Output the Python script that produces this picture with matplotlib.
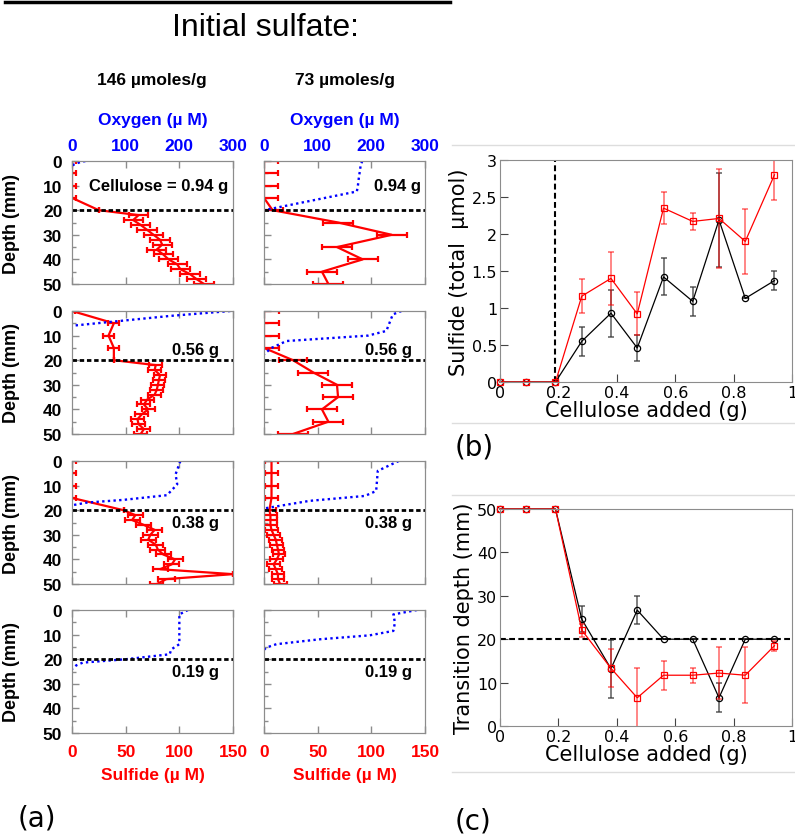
import matplotlib
matplotlib.use("Agg")
import matplotlib.pyplot as plt
from matplotlib.lines import Line2D
from matplotlib.ticker import MultipleLocator

W, H = 795, 837

# depth grids (mm) for the sulfide microprofiles
depth_fine = [0, 5, 10, 15, 20, 22, 24, 26, 28, 30, 32, 34, 36, 38, 40, 42, 44, 46, 48, 50]
depth_coarse = [0, 5, 10, 15, 20, 25, 30, 35, 40, 45, 50]

# sulfide (uM) with horizontal error, 146 umoles/g sulfate
sulf_146_094 = [0, 0, 0, 0, 25, 62, 57, 64, 70, 76, 82, 84, 79, 85, 90, 98, 101, 110, 116, 123]
err_146_094 = [4, 4, 4, 4, 0, 9, 9, 9, 9, 9, 9, 9, 9, 9, 9, 9, 9, 9, 9, 9]
sulf_146_056 = [0, 39, 34, 39, 39, 78, 77, 82, 81, 80, 79, 77, 70, 67, 71, 65, 61, 62, 67, 64]
err_146_056 = [3, 5, 5, 5, 0, 6, 6, 6, 6, 6, 6, 6, 6, 6, 6, 6, 6, 6, 6, 6]
sulf_146_038 = [0, 0, 0, 0, 48, 59, 56, 67, 77, 73, 71, 78, 80, 85, 96, 93, 82, 150, 88, 79]
err_146_038 = [4, 4, 4, 4, 0, 7, 7, 7, 7, 7, 7, 7, 7, 7, 7, 7, 7, 0, 8, 6]

# sulfide (uM), 73 umoles/g sulfate
sulf_73_094 = [0, 0, 0, 0, 8, 69, 119, 68, 92, 54, 60]
err_73_094 = [13, 13, 13, 13, 10, 14, 14, 14, 14, 14, 14]
sulf_73_056 = [0, 0, 0, 0, 27, 46, 68, 69, 54, 60, 27]
err_73_056 = [14, 14, 14, 14, 13, 14, 14, 14, 14, 14, 14]
sulf_73_038 = [7, 7, 7, 7, 5, 6, 6, 6, 7, 9, 11, 12, 13, 14, 12, 9, 11, 13, 13, 15]
err_73_038 = [6, 6, 6, 6, 6, 6, 6, 6, 6, 6, 6, 6, 6, 6, 6, 6, 6, 6, 6, 6]

# oxygen (uM) profiles: depth list + concentration list
oxy_depth_146_094 = [0, 0.5, 1, 1.5, 2]
oxy_146_094 = [25, 15, 8, 3, 0]
oxy_depth_146_056 = [0, 2, 6]
oxy_146_056 = [295, 183, 0]
oxy_depth_146_038 = [0, 5.4, 9.5, 13.9, 15.8, 16.9, 18]
oxy_146_038 = [202, 193, 196, 177, 96, 28, 0]
oxy_depth_146_019 = [0, 1.8, 13.9, 16, 18, 20, 21.4, 22.5, 24]
oxy_146_019 = [216, 200, 200, 185, 182, 101, 20, 8, 0]

oxy_depth_73_094 = [0, 2, 5, 8, 10, 12.4, 20]
oxy_73_094 = [183, 180, 178, 176, 175, 173, 0]
oxy_depth_73_056 = [0, 1.4, 8.1, 10, 12.2, 15, 17.6]
oxy_73_056 = [256, 240, 228, 194, 42, 14, 0]
oxy_depth_73_038 = [0, 4, 12.2, 14.2, 16.2, 19.3]
oxy_73_038 = [251, 212, 209, 188, 85, 0]
oxy_depth_73_019 = [0, 1.8, 5.1, 8.5, 10.3, 11.9, 13.9, 15.3, 16.2]
oxy_73_019 = [285, 241, 244, 241, 197, 104, 23, 4, 0]

# axis ticks for the profile panels
depth_ticks = [0, 10, 20, 30, 40, 50]
depth_labels = ["0", "10", "20", "30", "40", "50"]
sulf_ticks = [0, 50, 100, 150]
sulf_labels = ["0", "50", "100", "150"]
oxy_ticks = [0, 100, 200, 300]
oxy_labels = ["0", "100", "200", "300"]

# summary panels
cellulose = [0, 0.09, 0.19, 0.28, 0.38, 0.47, 0.56, 0.66, 0.75, 0.84, 0.94]
total_sulfide_black = [0, 0, 0, 0.55, 0.93, 0.46, 1.42, 1.09, 2.19, 1.13, 1.37]
total_sulfide_black_err = [0, 0, 0, 0.20, 0.32, 0.17, 0.25, 0.20, 0.63, 0, 0.13]
total_sulfide_red = [0, 0, 0, 1.16, 1.40, 0.92, 2.35, 2.17, 2.21, 1.90, 2.80]
total_sulfide_red_err = [0, 0, 0, 0.23, 0.36, 0.29, 0.22, 0.11, 0.67, 0.44, 0.34]
transition_black = [50, 50, 50, 24.6, 13.2, 26.7, 20, 20, 6.5, 20, 20]
transition_black_err = [0, 0, 0, 3, 6.7, 3.3, 0, 0, 3.3, 0, 0]
transition_red = [50, 50, 50, 22.1, 13.3, 6.5, 11.7, 11.7, 12.2, 11.7, 18.5]
transition_red_err = [0, 0, 0, 1.5, 4.4, 6.8, 3.3, 1.7, 6.0, 6.5, 1.2]

cell_ticks = [0, 0.2, 0.4, 0.6, 0.8, 1.0]
cell_labels = ["0", "0.2", "0.4", "0.6", "0.8", "1"]
sulf_total_ticks = [0, 0.5, 1, 1.5, 2, 2.5, 3]
sulf_total_labels = ["0", "0.5", "1", "1.5", "2", "2.5", "3"]
trans_ticks = [0, 10, 20, 30, 40, 50]
trans_labels = ["0", "10", "20", "30", "40", "50"]

ARIAL = "Liberation Sans"
SPINE = "#8c8c8c"

fig = plt.figure(figsize=(W / 100, H / 100), dpi=100)


def fx(px):
    return px / W


def fy(px):
    return 1 - px / H


def profile_panel(col, row, sulf_depth, sulf, sulf_err, oxy_depth, oxy, note):
    left = [72, 264][col]
    top = [162, 312, 462, 611][row]
    ax = fig.add_axes([fx(left), fy(top + 123), 161 / W, 123 / H])
    ax.set_xlim(0, 150)
    ax.set_ylim(50, 0)
    bold = dict(fontfamily=ARIAL, fontweight="bold", fontsize=12.5)
    ax.set_xticks(sulf_ticks, sulf_labels, color="red", **bold)
    ax.set_yticks(depth_ticks, depth_labels, color="black", **bold)
    ax.yaxis.set_minor_locator(MultipleLocator(5))
    ax.tick_params(direction="in", color=SPINE, length=5, width=1)
    ax.tick_params(which="minor", direction="in", color=SPINE, length=3, width=1)
    ax.tick_params(axis="x", pad=8, labelbottom=(row == 3))
    ax.tick_params(axis="y", pad=7, labelleft=(col == 0))
    if row == 3:
        ax.set_xlabel("Sulfide (\u00b5 M)", color="red", labelpad=6, **bold)
    if col == 0:
        ax.set_ylabel("Depth (mm)", labelpad=6, fontfamily=ARIAL,
                      fontweight="bold", fontsize=13)
        ax.yaxis.set_label_coords(-0.32, 0.5)

    if sulf is not None:
        ax.errorbar(sulf, sulf_depth, xerr=sulf_err, color="red", lw=1.6,
                    elinewidth=1.6, capsize=2, capthick=1.6)

    tw = ax.twiny()
    tw.set_xlim(0, 300)
    tw.set_xticks(oxy_ticks, oxy_labels, color="blue", **bold)
    tw.tick_params(direction="in", color=SPINE, length=5, width=1, pad=6,
                   labeltop=(row == 0))
    if row == 0:
        tw.set_xlabel("Oxygen (\u00b5 M)", color="blue", labelpad=10, **bold)
    tw.plot(oxy, oxy_depth, color="blue", lw=1.7, linestyle=(0, (1, 1.4)))
    tw.axhline(20, color="black", lw=2, linestyle=(0, (1.6, 1.0)))
    tw.text(note[0], note[1], note[2], transform=ax.transData, ha="right",
            va="center", fontfamily=ARIAL, fontweight="bold", fontsize=12)
    for a in (ax, tw):
        for sp in a.spines.values():
            sp.set_color(SPINE)
    return ax


profile_panel(0, 0, depth_fine, sulf_146_094, err_146_094,
              oxy_depth_146_094, oxy_146_094, (146, 10, "Cellulose = 0.94 g"))
profile_panel(0, 1, depth_fine, sulf_146_056, err_146_056,
              oxy_depth_146_056, oxy_146_056, (137, 15.5, "0.56 g"))
profile_panel(0, 2, depth_fine, sulf_146_038, err_146_038,
              oxy_depth_146_038, oxy_146_038, (137, 25, "0.38 g"))
profile_panel(0, 3, None, None, None,
              oxy_depth_146_019, oxy_146_019, (137, 25, "0.19 g"))
profile_panel(1, 0, depth_coarse, sulf_73_094, err_73_094,
              oxy_depth_73_094, oxy_73_094, (146, 10, "0.94 g"))
profile_panel(1, 1, depth_coarse, sulf_73_056, err_73_056,
              oxy_depth_73_056, oxy_73_056, (138, 15.5, "0.56 g"))
profile_panel(1, 2, depth_fine, sulf_73_038, err_73_038,
              oxy_depth_73_038, oxy_73_038, (138, 25, "0.38 g"))
profile_panel(1, 3, None, None, None,
              oxy_depth_73_019, oxy_73_019, (138, 25, "0.19 g"))

# headings over the profile grid
fig.add_artist(Line2D([fx(5), fx(450)], [fy(3), fy(3)], color="black", lw=2.5))
fig.text(fx(265), fy(28), "Initial sulfate:", ha="center", va="center",
         fontfamily=ARIAL, fontsize=23)
for cx, txt in [(152, "146 \u00b5moles/g"), (345, "73 \u00b5moles/g")]:
    fig.text(fx(cx), fy(81), txt, ha="center", va="center", fontfamily=ARIAL,
             fontweight="bold", fontsize=12.5)


def summary_axes(top, bottom):
    ax = fig.add_axes([fx(500), fy(bottom), 292 / W, (bottom - top) / H])
    for sp in ax.spines.values():
        sp.set_color(SPINE)
    ax.tick_params(direction="in", length=6, color="#444444", labelsize=11.5, pad=2)
    return ax


def series(ax, y, yerr, color, marker, ecolor):
    ax.errorbar(cellulose, y, yerr=yerr, fmt="none", ecolor=ecolor,
                elinewidth=1.1, capsize=2.5, capthick=1.1)
    ax.plot(cellulose, y, "-", marker=marker, color=color, mfc="none", ms=4.5,
            mew=0.9, lw=0.9, clip_on=False)


# (b) total sulfide vs cellulose
axb = summary_axes(161, 383)
axb.set_xlim(0, 1)
axb.set_ylim(0, 3)
axb.set_xticks(cell_ticks, cell_labels)
axb.set_yticks(sulf_total_ticks, sulf_total_labels)
axb.axvline(0.19, color="black", lw=1.5, linestyle=(0, (2.8, 1.6)))
series(axb, total_sulfide_black, total_sulfide_black_err, "black", "o", (0.2, 0.2, 0.2, 0.8))
series(axb, total_sulfide_red, total_sulfide_red_err, "red", "s", (1, 0, 0, 0.6))
axb.set_xlabel("Cellulose added (g)", fontsize=15, labelpad=0)
axb.set_ylabel("Sulfide (total  \u00b5mol)", fontsize=15, labelpad=2)

# (c) transition depth vs cellulose
axc = summary_axes(510, 727)
axc.set_xlim(0, 1)
axc.set_ylim(0, 50)
axc.set_xticks(cell_ticks, cell_labels)
axc.set_yticks(trans_ticks, trans_labels)
axc.axhline(20, color="black", lw=1.5, linestyle=(0, (2.8, 1.6)))
series(axc, transition_black, transition_black_err, "black", "o", (0.2, 0.2, 0.2, 0.8))
series(axc, transition_red, transition_red_err, "red", "s", (1, 0, 0, 0.6))
axc.set_xlabel("Cellulose added (g)", fontsize=15, labelpad=0)
axc.set_ylabel("Transition depth (mm)", fontsize=15, labelpad=2)

# panel separators and letters
for ypx in (146, 424, 496, 773):
    fig.add_artist(Line2D([fx(452), 1], [fy(ypx), fy(ypx)], color="#dddddd", lw=1))
fig.text(fx(18), fy(819), "(a)", va="center", fontsize=20)
fig.text(fx(455), fy(448), "(b)", va="center", fontsize=20)
fig.text(fx(455), fy(822), "(c)", va="center", fontsize=20)

fig.savefig("out.png", dpi=100)
